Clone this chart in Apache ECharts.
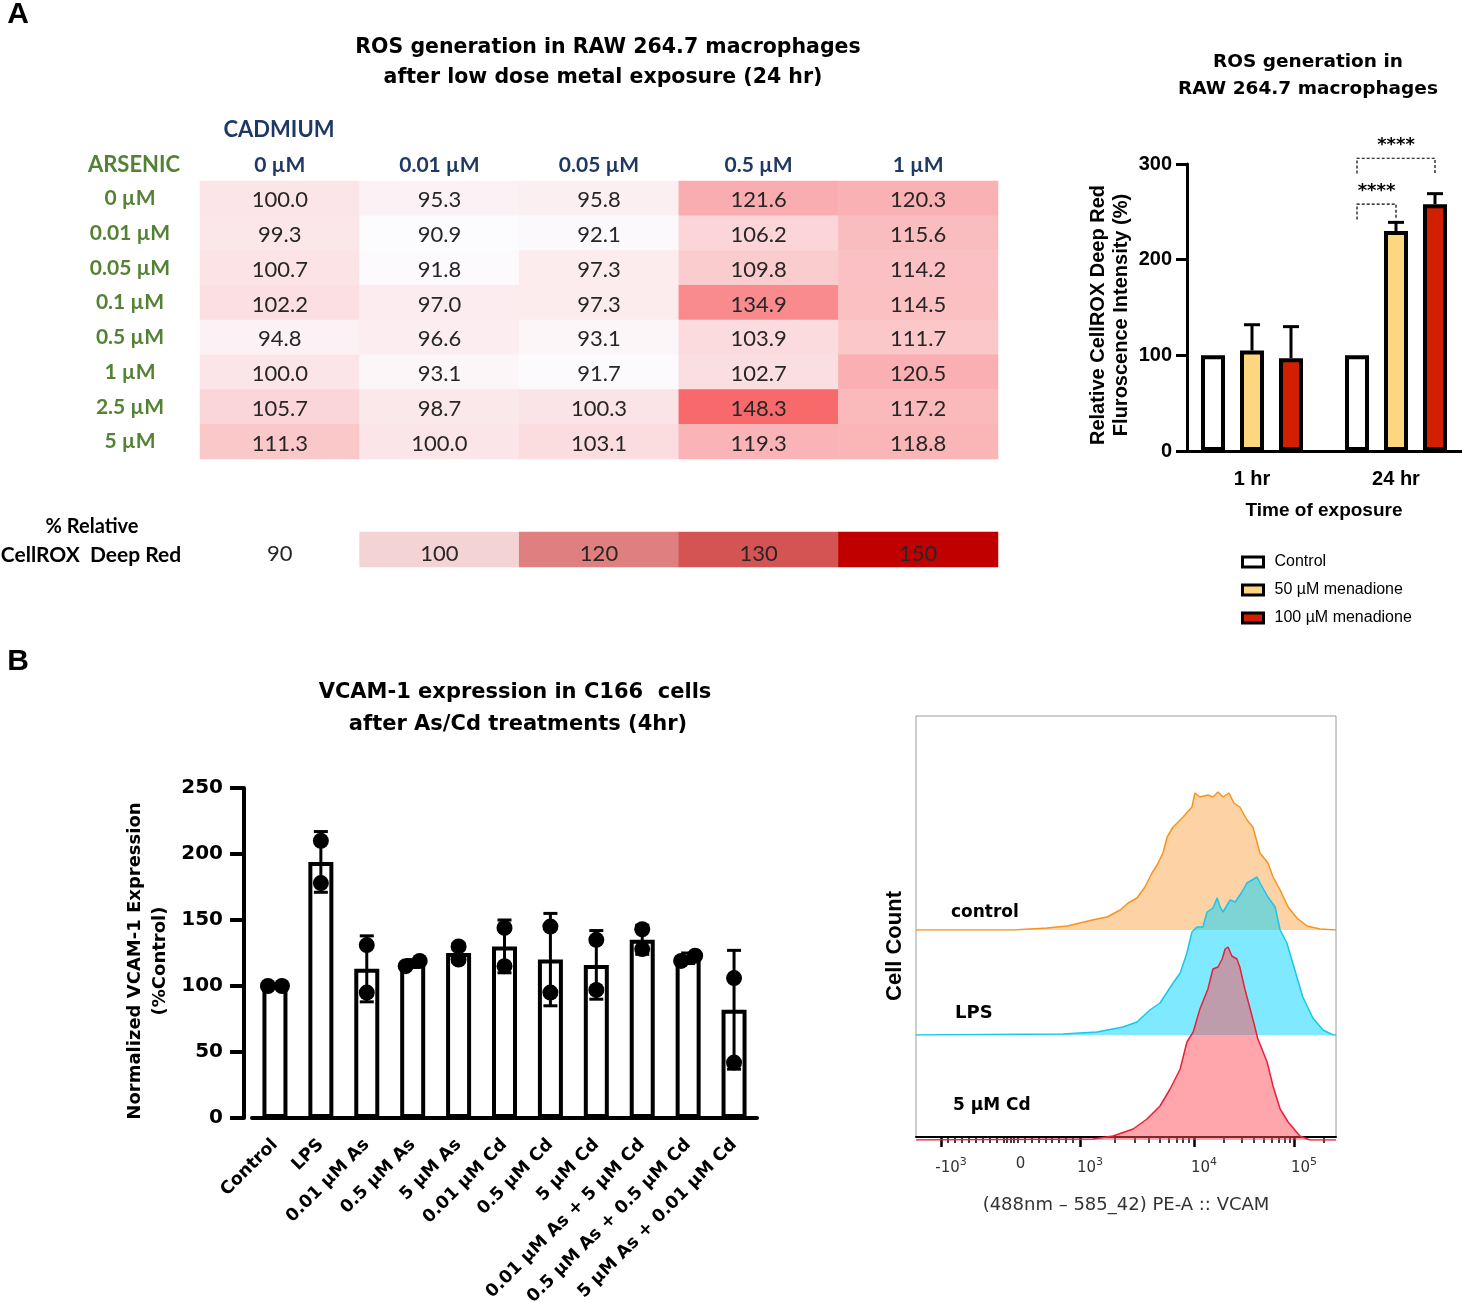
<!DOCTYPE html>
<html><head><meta charset="utf-8">
<script src="https://cdn.jsdelivr.net/npm/echarts@6/dist/echarts.min.js"></script>
<style>html,body{margin:0;padding:0;background:#fff}#c{width:1462px;height:1302px}</style>
</head><body><div id="c"></div>
<script>
// ---------- Panel A: heatmap ----------
const cadmiumLevels = ['0 µM','0.01 µM','0.05 µM','0.5 µM','1 µM'];
const arsenicLevels = ['0 µM','0.01 µM','0.05 µM','0.1 µM','0.5 µM','1 µM','2.5 µM','5 µM'];
const rosRow0 = [100.0,95.3,95.8,121.6,120.3];
const rosRow1 = [99.3,90.9,92.1,106.2,115.6];
const rosRow2 = [100.7,91.8,97.3,109.8,114.2];
const rosRow3 = [102.2,97.0,97.3,134.9,114.5];
const rosRow4 = [94.8,96.6,93.1,103.9,111.7];
const rosRow5 = [100.0,93.1,91.7,102.7,120.5];
const rosRow6 = [105.7,98.7,100.3,148.3,117.2];
const rosRow7 = [111.3,100.0,103.1,119.3,118.8];
const scaleValues = [90,100,120,130,150];
const scaleColors = ['rgba(255,255,255,0)','#f4d3d5','#e07f80','#d45454','#c00000'];

// ---------- Panel A: bar chart ----------
const timePoints = ['1 hr','24 hr'];
const treatNames = ['Control','50 µM menadione','100 µM menadione'];
const rosControl = [100,100];
const ros50 = [105,230];
const ros100 = [97,258];
const rosErrControl = [0,0];
const rosErr50 = [27,9];
const rosErr100 = [33,11];
const sigBrackets = [[1,0,1,258,242],[1,0,2,306,290]]; // [time, from group, to group, level, leg end]
const sigLabels = ['****','****'];

// ---------- Panel B: VCAM bar chart ----------
const vcamCats = ['Control','LPS','0.01 µM As','0.5 µM As','5 µM As','0.01 µM Cd','0.5 µM Cd','5 µM Cd','0.01 µM As + 5 µM Cd','0.5 µM As + 0.5 µM Cd','5 µM As + 0.01 µM Cd'];
const vcamMean = [100,194,113,117,125,130,120,116,135,121,82];
const vcamSD = [0,23,25,3,7,20,35,26,11,4,45];
const vcamPoints = [[100,100],[210,178],[131,95],[115,119],[130,120],[144,115],[145,95],[135,97],[143,128],[119,123],[106,42]];

// ---------- Panel B: flow histogram (display channel 0-1000, counts) ----------
const flowTickPos = [59.5,225,390.5,662,900];
const flowTickText = ['-10{s|3}','0','10{s|3}','10{s|4}','10{s|5}'];
const flowControl = [[0,0],[231,0],[312,2],[360,4],[390,7],[430,11],[455,13],[486,20],[505,27],[526,32],[545,43],[562,57],[574,65],[588,77],[598,93],[612,103],[636,113],[657,123],[664,137],[676,133],[695,135],[707,133],[719,138],[731,133],[745,137],[757,127],[771,123],[788,110],[802,103],[819,77],[838,67],[850,53],[867,40],[886,23],[907,12],[931,4],[962,1],[998,0],[1000,0]];
const flowLPS = [[0,0],[350,1],[431,3],[493,8],[526,13],[557,25],[581,32],[612,52],[629,62],[645,82],[657,103],[669,108],[683,108],[693,123],[707,127],[717,137],[724,128],[731,123],[748,135],[760,133],[776,143],[788,152],[800,155],[812,158],[819,152],[838,138],[855,128],[867,105],[883,92],[902,65],[921,38],[945,17],[969,5],[993,0],[1000,0]];
const flowCd = [[0,0],[421,1],[469,4],[517,11],[550,21],[581,34],[605,51],[629,71],[645,98],[660,108],[676,131],[695,151],[707,171],[719,173],[729,181],[736,191],[743,193],[752,184],[764,181],[771,173],[783,151],[802,121],[814,101],[836,78],[850,54],[867,31],[886,18],[914,4],[938,0],[1000,0]];

// ---------- build ----------
const GP = "'Liberation Sans', Arial, sans-serif";
const DJ = "'DejaVu Sans', sans-serif";
const XL = "Lato, 'Open Sans', sans-serif";
const rosMatrix = [rosRow0,rosRow1,rosRow2,rosRow3,rosRow4,rosRow5,rosRow6,rosRow7];
const heatData = [];
rosMatrix.forEach((row, r) => row.forEach((v, c) => heatData.push([c, r, v])));
const allVals = rosMatrix.flat();
const scaleData = scaleValues.map((v, i) => ({value: [i, 0, v], itemStyle: {color: scaleColors[i]}}));

const BAR_W_A = 24, GAP_A = 0.625, SPACING_A = BAR_W_A * (1 + GAP_A);
const errAData = [];
[[rosControl, rosErrControl],[ros50, rosErr50],[ros100, rosErr100]].forEach((pair, g) => {
  pair[0].forEach((v, t) => errAData.push([t, g, v, pair[1][t]]));
});
const errBData = vcamMean.map((m, i) => [i, m, vcamSD[i]]);
const dotsB = [];
vcamPoints.forEach((pts, i) => {
  const close = pts.length === 2 && Math.abs(pts[0] - pts[1]) < 6;
  pts.forEach((v, k) => dotsB.push([i, v, close ? (k === 0 ? -1 : 1) : 0]));
});

// minor ticks for flow axis
const flowMinor = [];
const z0 = flowTickPos[1], lin = (flowTickPos[2] - flowTickPos[1]) / 10;
for (let k = -9; k <= 9; k++) flowMinor.push(z0 + k * lin);
[-0.5, 0.5].forEach(k => flowMinor.push(z0 + k * lin));
for (let k = 2; k <= 9; k++) {
  flowMinor.push(flowTickPos[2] + (flowTickPos[3] - flowTickPos[2]) * Math.log10(k));
  flowMinor.push(flowTickPos[3] + (flowTickPos[4] - flowTickPos[3]) * Math.log10(k));
}
flowMinor.push(flowTickPos[4] + (flowTickPos[4] - flowTickPos[3]) * Math.log10(2));
const flowMajor = [flowTickPos[0], flowTickPos[2], flowTickPos[3], flowTickPos[4]];

function txt(x, y, text, size, o) {
  o = o || {};
  const font = (o.weight || 'bold') + ' ' + size + 'px ' + (o.family || GP);
  return {type: 'text', x: x, y: y, rotation: o.rot || 0, silent: true,
    style: {text: text, font: font, fill: o.color || '#000',
      align: o.align || 'center', textAlign: o.align || 'center',
      verticalAlign: 'middle', textVerticalAlign: 'middle'}};
}

const hiddenVal = (g) => ({type: 'value', gridIndex: g, min: 0, max: 1000, show: false});
const hiddenY = (g) => ({type: 'value', gridIndex: g, min: 0, max: 200, show: false});
const G = (o) => Object.assign({outerBoundsMode: 'none', containLabel: false}, o);

const option = {
  animation: false,
  backgroundColor: '#fff',
  grid: [
    G({left: 200, top: 181, width: 798, height: 278}),
    G({left: 200, top: 532, width: 798, height: 35}),
    G({left: 1180, top: 164, width: 288, height: 287}),
    G({left: 252, top: 788, width: 505, height: 330}),
    G({left: 916, top: 716, width: 420, height: 421, show: true, borderColor: '#9a9a9a', borderWidth: 1}),
    G({left: 916, top: 730, width: 420, height: 200}),
    G({left: 916, top: 835, width: 420, height: 200}),
    G({left: 916, top: 940, width: 420, height: 200})
  ],
  visualMap: {show: false, seriesIndex: 0, dimension: 2, min: Math.min(...allVals), max: Math.max(...allVals),
    inRange: {color: ['#fcfcff', '#f8696b']}},
  legend: {data: treatNames, orient: 'vertical', left: 1236, top: 548, icon: 'rect',
    itemWidth: 21, itemHeight: 10, itemGap: 10,
    itemStyle: {borderColor: '#000', borderWidth: 3},
    textStyle: {fontFamily: GP, fontSize: 16, color: '#000', lineHeight: 18, padding: [0, 0, 0, 6]}},
  xAxis: [
    {type: 'category', gridIndex: 0, data: cadmiumLevels, position: 'top',
      axisLine: {show: false}, axisTick: {show: false},
      axisLabel: {margin: 5, fontFamily: XL, fontWeight: 'bold', fontSize: 21, color: '#1f3864'}},
    {type: 'category', gridIndex: 1, data: scaleValues.map(String), show: false},
    {type: 'category', gridIndex: 2, data: timePoints,
      axisLine: {lineStyle: {color: '#000', width: 3}},
      axisTick: {alignWithLabel: true, length: 10, lineStyle: {color: '#000', width: 3}},
      axisLabel: {margin: 18, fontFamily: GP, fontWeight: 'bold', fontSize: 20, color: '#000'},
      name: 'Time of exposure', nameLocation: 'middle', nameGap: 50,
      nameTextStyle: {fontFamily: GP, fontWeight: 'bold', fontSize: 19, color: '#000'}},
    {type: 'category', gridIndex: 3, data: vcamCats,
      axisLine: {lineStyle: {color: '#000', width: 4}},
      axisTick: {alignWithLabel: true, length: 14, lineStyle: {color: '#000', width: 4}},
      axisLabel: {interval: 0, rotate: 45, margin: 24, fontFamily: DJ, fontWeight: 'bold', fontSize: 17.5, color: '#000'}},
    {type: 'value', gridIndex: 4, min: 0, max: 1000, position: 'bottom',
      axisLine: {lineStyle: {color: '#000', width: 2}},
      axisTick: {customValues: flowMajor, length: 10, lineStyle: {color: '#000', width: 2.5}},
      axisLabel: {customValues: flowTickPos, margin: 20, padding: [0, 0, 0, 20], fontFamily: DJ, fontSize: 15, color: '#333',
        formatter: function (v) {
          let best = 0;
          flowTickPos.forEach((p, i) => { if (Math.abs(p - v) < Math.abs(flowTickPos[best] - v)) best = i; });
          return flowTickText[best];
        },
        rich: {s: {fontSize: 11, color: '#333', fontFamily: DJ, padding: [0, 0, 12, 0]}}},
      splitLine: {show: false},
      name: '(488nm – 585_42) PE-A :: VCAM', nameLocation: 'middle', nameGap: 59,
      nameTextStyle: {fontFamily: DJ, fontSize: 18, color: '#333'}},
    {type: 'value', gridIndex: 4, min: 0, max: 1000, position: 'bottom',
      axisLine: {show: false}, axisLabel: {show: false}, splitLine: {show: false},
      axisTick: {customValues: flowMinor, length: 6, lineStyle: {color: '#000', width: 1.5}}},
    hiddenVal(5), hiddenVal(6), hiddenVal(7)
  ],
  yAxis: [
    {type: 'category', gridIndex: 0, data: arsenicLevels, inverse: true,
      axisLine: {show: false}, axisTick: {show: false},
      axisLabel: {margin: 70, align: 'center', padding: [4, 0, 0, 0], fontFamily: XL, fontWeight: 'bold', fontSize: 21, color: '#548235'}},
    {type: 'category', gridIndex: 1, data: ['scale'], show: false},
    {type: 'value', gridIndex: 2, min: 0, max: 300, interval: 100, offset: -7,
      axisLine: {show: true, lineStyle: {color: '#000', width: 3}},
      axisTick: {show: true, length: 11, lineStyle: {color: '#000', width: 3}},
      axisLabel: {margin: 15, fontFamily: GP, fontWeight: 'bold', fontSize: 20, color: '#000'},
      splitLine: {show: false}},
    {type: 'value', gridIndex: 3, min: 0, max: 250, interval: 50, offset: 8,
      axisLine: {show: true, lineStyle: {color: '#000', width: 4}},
      axisTick: {show: true, length: 14, lineStyle: {color: '#000', width: 4}},
      axisLabel: {margin: 21, fontFamily: DJ, fontWeight: 'bold', fontSize: 20, color: '#000'},
      splitLine: {show: false}},
    {type: 'value', gridIndex: 4, min: 0, max: 1, show: false},
    hiddenY(5), hiddenY(6), hiddenY(7)
  ],
  series: [
    {type: 'heatmap', xAxisIndex: 0, yAxisIndex: 0, data: heatData, silent: true,
      label: {show: true, formatter: p => p.value[2].toFixed(1), fontFamily: XL, fontSize: 22, color: '#262626', offset: [0, 2]}},
    {type: 'heatmap', xAxisIndex: 1, yAxisIndex: 1, data: scaleData, silent: true,
      label: {show: true, formatter: p => String(p.value[2]), fontFamily: XL, fontSize: 22, color: '#262626', offset: [0, 4]}},
    {type: 'bar', name: treatNames[0], xAxisIndex: 2, yAxisIndex: 2, data: rosControl, barWidth: BAR_W_A, barGap: '62.5%',
      itemStyle: {color: '#ffffff', borderColor: '#000', borderWidth: 4}},
    {type: 'bar', name: treatNames[1], xAxisIndex: 2, yAxisIndex: 2, data: ros50, barWidth: BAR_W_A, barGap: '62.5%',
      itemStyle: {color: '#fed67f', borderColor: '#000', borderWidth: 4}},
    {type: 'bar', name: treatNames[2], xAxisIndex: 2, yAxisIndex: 2, data: ros100, barWidth: BAR_W_A, barGap: '62.5%',
      itemStyle: {color: '#d21f00', borderColor: '#000', borderWidth: 4}},
    {type: 'custom', xAxisIndex: 2, yAxisIndex: 2, data: errAData, silent: true, z: 5,
      renderItem: function (params, api) {
        const t = api.value(0), g = api.value(1), v = api.value(2), e = api.value(3);
        if (!e) return null;
        const p0 = api.coord([t, v]), p1 = api.coord([t, v + e]);
        const x = p0[0] + (g - 1) * SPACING_A;
        return {type: 'group', children: [
          {type: 'line', shape: {x1: x, y1: p0[1], x2: x, y2: p1[1]}, style: {stroke: '#000', lineWidth: 3}},
          {type: 'line', shape: {x1: x - 8, y1: p1[1], x2: x + 8, y2: p1[1]}, style: {stroke: '#000', lineWidth: 3}}]};
      }},
    {type: 'custom', xAxisIndex: 2, yAxisIndex: 2, data: sigBrackets, silent: true, z: 5, clip: false,
      renderItem: function (params, api) {
        const t = api.value(0), a = api.value(1), b = api.value(2), lv = api.value(3), lg = api.value(4);
        const c = api.coord([t, lv]), cl = api.coord([t, lg]);
        const xa = c[0] + (a - 1) * SPACING_A, xb = c[0] + (b - 1) * SPACING_A;
        return {type: 'group', children: [
          {type: 'polyline', shape: {points: [[xa, cl[1]], [xa, c[1]], [xb, c[1]], [xb, cl[1]]]},
            style: {stroke: '#000', lineWidth: 1.2, lineDash: [3, 2], fill: null}},
          {type: 'text', x: (xa + xb) / 2, y: c[1] - 13,
            style: {text: sigLabels[params.dataIndex], font: 'bold 18px ' + DJ, fill: '#000',
              align: 'center', textAlign: 'center', verticalAlign: 'middle', textVerticalAlign: 'middle'}}]};
      }},
    {type: 'bar', xAxisIndex: 3, yAxisIndex: 3, data: vcamMean, barWidth: 25,
      itemStyle: {color: '#ffffff', borderColor: '#000', borderWidth: 4}},
    {type: 'custom', xAxisIndex: 3, yAxisIndex: 3, data: errBData, silent: true, z: 5,
      renderItem: function (params, api) {
        const i = api.value(0), m = api.value(1), s = api.value(2);
        if (!s) return null;
        const hi = api.coord([i, m + s]), lo = api.coord([i, m - s]);
        const x = hi[0];
        const st = {stroke: '#000', lineWidth: 3};
        return {type: 'group', children: [
          {type: 'line', shape: {x1: x, y1: lo[1], x2: x, y2: hi[1]}, style: st},
          {type: 'line', shape: {x1: x - 7, y1: hi[1], x2: x + 7, y2: hi[1]}, style: st},
          {type: 'line', shape: {x1: x - 7, y1: lo[1], x2: x + 7, y2: lo[1]}, style: st}]};
      }},
    {type: 'custom', xAxisIndex: 3, yAxisIndex: 3, data: dotsB, silent: true, z: 6,
      renderItem: function (params, api) {
        const p = api.coord([api.value(0), api.value(1)]);
        return {type: 'circle', shape: {cx: p[0] + api.value(2) * 7, cy: p[1], r: 8}, style: {fill: '#000'}};
      }},
    {type: 'line', xAxisIndex: 6, yAxisIndex: 5, data: flowControl, symbol: 'none', silent: true,
      lineStyle: {color: '#f7941d', width: 1.5}, areaStyle: {color: 'rgba(251,168,76,0.5)', opacity: 1}},
    {type: 'line', xAxisIndex: 7, yAxisIndex: 6, data: flowLPS, symbol: 'none', silent: true,
      lineStyle: {color: '#18c6ef', width: 1.5}, areaStyle: {color: 'rgba(0,214,255,0.5)', opacity: 1}},
    {type: 'line', xAxisIndex: 8, yAxisIndex: 7, data: flowCd, symbol: 'none', silent: true,
      lineStyle: {color: '#e8203a', width: 1.5}, areaStyle: {color: 'rgba(255,77,90,0.5)', opacity: 1}}
  ],
  graphic: [
    txt(18, 15, 'A', 30),
    txt(18, 662, 'B', 30),
    txt(608, 48, 'ROS generation in RAW 264.7 macrophages', 20.5, {family: DJ}),
    txt(603, 78, 'after low dose metal exposure (24 hr)', 20.5, {family: DJ}),
    txt(279, 130, 'CADMIUM', 22, {family: XL, color: '#1f3864'}),
    txt(134, 165, 'ARSENIC', 22, {family: XL, color: '#548235'}),
    txt(92, 527, '% Relative', 20, {family: XL}),
    txt(91, 555, 'CellROX  Deep Red', 21, {family: XL}),
    txt(1308, 62, 'ROS generation in', 18.5, {family: DJ}),
    txt(1308, 89, 'RAW 264.7 macrophages', 18.5, {family: DJ}),
    txt(1098, 315, 'Relative CellROX Deep Red', 20, {rot: Math.PI / 2}),
    txt(1121, 315, 'Fluroscence Intensity (%)', 20, {rot: Math.PI / 2}),
    txt(515, 693, 'VCAM-1 expression in C166  cells', 21, {family: DJ}),
    txt(518, 725, 'after As/Cd treatments (4hr)', 21, {family: DJ}),
    txt(135, 961, 'Normalized VCAM-1 Expression', 18, {family: DJ, rot: Math.PI / 2}),
    txt(160, 961, '(%Control)', 18, {family: DJ, rot: Math.PI / 2}),
    txt(895, 946, 'Cell Count', 22, {rot: Math.PI / 2}),
    txt(951, 913, 'control', 17, {align: 'left', family: DJ}),
    txt(955, 1013, 'LPS', 18, {align: 'left', family: DJ}),
    txt(953, 1106, '5 µM Cd', 17, {align: 'left', family: DJ})
  ]
};
const chart = echarts.init(document.getElementById('c'), null, {renderer: 'canvas', width: 1462, height: 1302});
chart.setOption(option);
</script>
</body></html>
